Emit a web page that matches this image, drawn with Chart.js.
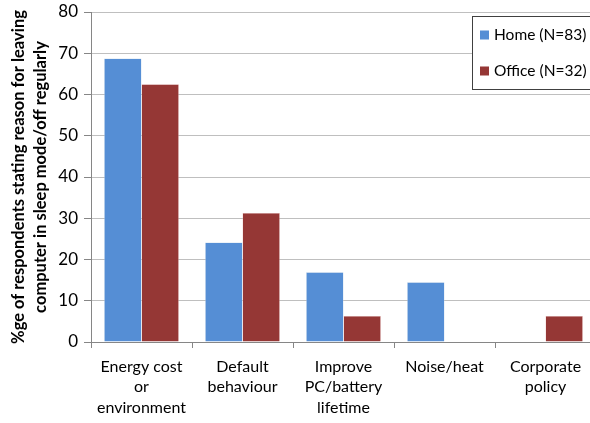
<!DOCTYPE html>
<html><head><meta charset="utf-8">
<script src="https://cdn.jsdelivr.net/npm/chart.js@4"></script>
<style>html,body{margin:0;padding:0;overflow:hidden;background:#fff}#wrap{width:600px;height:423px;position:relative}</style>
</head><body><div id="wrap"><canvas id="c"></canvas></div>
<script>
const categories = [["Energy cost","or","environment"],["Default","behaviour"],["Improve","PC/battery","lifetime"],["Noise/heat"],["Corporate","policy"]];
const homeValues = [68.7, 24.1, 16.9, 14.5, 0];
const officeValues = [62.5, 31.3, 6.3, 0, 6.3];
const seriesNames = ["Home (N=83)", "Office (N=32)"];
const yTitle = ["%ge of respondents stating reason for leaving","computer in sleep mode/off regularly"];
const colors = ["#558ED5", "#953735"];
const FONT = "Lato, 'Open Sans', sans-serif";

const legendPlugin = {
  id: 'boxLegend',
  afterDraw(chart) {
    const ctx = chart.ctx;
    ctx.save();
    ctx.fillStyle = '#fff';
    ctx.fillRect(472.5, 16.5, 130, 73);
    ctx.strokeStyle = '#404040';
    ctx.lineWidth = 1;
    ctx.strokeRect(472.5, 16.5, 130, 73);
    ctx.font = "15.5px " + FONT;
    ctx.textBaseline = 'middle';
    const ys = [35, 71];
    chart.data.datasets.forEach((ds, i) => {
      ctx.fillStyle = ds.backgroundColor;
      ctx.fillRect(480, ys[i] - 4.5, 9, 9);
      ctx.fillStyle = '#000';
      ctx.fillText(ds.label, 494, ys[i]);
    });
    ctx.restore();
  }
};

new Chart(document.getElementById('c'), {
  type: 'bar',
  data: {
    labels: categories,
    datasets: [
      {label: seriesNames[0], data: homeValues, backgroundColor: colors[0], borderColor: '#B9CDE5', borderWidth: 0.5},
      {label: seriesNames[1], data: officeValues, backgroundColor: colors[1], borderColor: '#E6B9B8', borderWidth: 0.5}
    ]
  },
  options: {
    responsive: true, maintainAspectRatio: false, animation: false,
    layout: {padding: {top: 12, right: 4, left: 8, bottom: 0}},
    categoryPercentage: 0.74, barPercentage: 1,
    plugins: {legend: {display: false}, tooltip: {enabled: false}},
    scales: {
      x: {
        afterFit(s) { s.height = 81; s.paddingLeft = 0; s.paddingRight = 0; },
        grid: {display: true, drawOnChartArea: false, offset: true, tickLength: 6, color: '#868686'},
        border: {color: '#868686'},
        ticks: {color: '#000', font: {family: FONT, size: 16, lineHeight: 1.3}, padding: 8, maxRotation: 0, autoSkip: false}
      },
      y: {
        min: 0, max: 80,
        afterFit(s) { s.width = 83; s.paddingTop = 0; s.paddingBottom = 0; },
        ticks: {stepSize: 10, color: '#000', font: {family: FONT, size: 17}, padding: 6},
        grid: {color: '#BFBFBF', tickLength: 7, tickColor: '#868686'},
        border: {color: '#868686'},
        title: {display: true, text: yTitle, color: '#000', font: {family: FONT, size: 16.5, weight: 'bold', lineHeight: 1.3}, padding: {top: 0, bottom: 0}}
      }
    }
  },
  plugins: [legendPlugin]
});
</script></body></html>
